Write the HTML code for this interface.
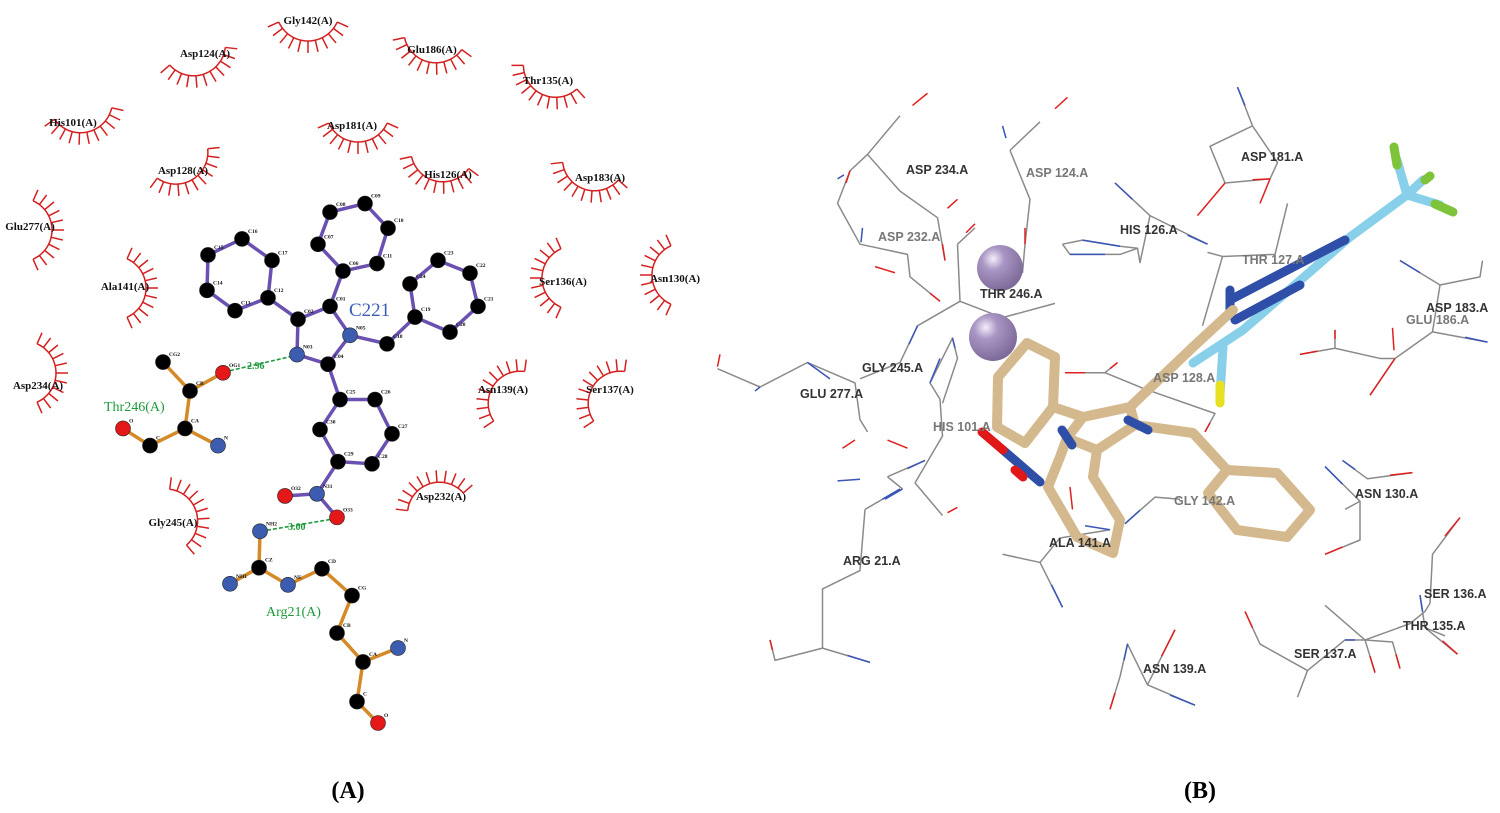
<!DOCTYPE html>
<html><head><meta charset="utf-8"><style>
body{margin:0;background:#fff;}
svg{display:block;}
.lb{font-family:"Liberation Serif",serif;font-weight:bold;font-size:11px;fill:#111;}
.al{font-family:"Liberation Serif",serif;font-weight:bold;font-size:5.5px;fill:#111;}
.rl{font-family:"Liberation Sans",sans-serif;font-weight:bold;font-size:12.5px;fill:#333;}
.rg{fill:#777;}
.w *{vector-effect:non-scaling-stroke;}
</style></head><body>
<svg id="s" width="1500" height="813" viewBox="0 0 1500 813" xmlns="http://www.w3.org/2000/svg">
<g id="lash" stroke="#d42020" stroke-width="1.5" fill="none"></g>
<g id="mol"></g>
<text x="348" y="798" text-anchor="middle" style="font-family:'Liberation Serif',serif;font-weight:bold;font-size:24px">(A)</text>
<text x="1200" y="798" text-anchor="middle" style="font-family:'Liberation Serif',serif;font-weight:bold;font-size:24px">(B)</text>

<g class="w" transform="translate(710,81) scale(0.5,0.408)" fill="none" stroke="#8a8a8a" stroke-width="1.5" stroke-linejoin="round">
<polyline points="380,85 315,180 380,270 455,335 470,440"/>
<polyline points="315,180 280,220 255,300 300,400 395,425 400,480 460,540"/>
<polyline points="600,170 640,290 630,400 625,470"/><polyline points="660,100 600,170"/>
<polyline points="495,400 500,540 415,600 380,690 300,730"/><polyline points="500,540 585,580 690,545"/><polyline points="495,400 530,360"/>
<polyline points="15,705 100,750 195,690 290,740 300,830 315,860"/>
<polyline points="355,970 430,930"/><polyline points="355,970 385,1000"/><polyline points="410,985 465,870 460,780 440,740 485,630 495,680 465,790"/>
<polyline points="310,1050 300,1200 225,1245 225,1390 130,1420 120,1370"/><polyline points="225,1390 320,1425"/><polyline points="310,1050 380,1000"/>
<polyline points="410,985 465,1065"/>
<polyline points="705,400 745,390 820,405 855,410 820,425 720,425 705,400"/><polyline points="855,410 860,445 880,330 810,250"/><polyline points="880,330 995,400"/>
<polyline points="995,420 1025,430 1130,425 1155,300"/><polyline points="1025,430 985,600"/>
<polyline points="1085,110 1000,160 1030,250 1120,240 1135,200 1085,110 1055,15"/>
<polyline points="1380,440 1460,500 1540,480 1545,440"/><polyline points="1460,500 1445,615 1370,680 1320,770"/><polyline points="1370,680 1340,680 1250,655 1180,670"/><polyline points="1250,655 1250,610"/><polyline points="1445,615 1555,640"/>
<polyline points="710,715 790,715 815,690"/><polyline points="790,715 870,755 1010,815 990,860"/>
<polyline points="830,1085 890,1020 940,1025"/>
<polyline points="585,1160 660,1180 705,1290"/><polyline points="660,1180 700,1120 800,1100"/>
<polyline points="1230,945 1300,1030 1270,1050"/><polyline points="1265,930 1315,975 1405,960"/><polyline points="1300,1030 1300,1125 1230,1160"/>
<polyline points="1500,1070 1445,1160 1440,1280 1430,1300 1400,1330 1310,1370 1230,1285"/><polyline points="1310,1370 1330,1450"/><polyline points="1310,1370 1365,1375 1380,1440"/><polyline points="1310,1370 1270,1370 1195,1445 1175,1510"/><polyline points="1195,1445 1100,1380 1070,1300"/><polyline points="1420,1260 1430,1340 1495,1405"/><polyline points="1430,1340 1470,1360"/>
<polyline points="930,1345 875,1480 835,1380 820,1460 800,1540"/><polyline points="875,1480 970,1530"/>
<g stroke="#e02020">
<line x1="435" y1="30" x2="405" y2="60"/><line x1="495" y1="290" x2="475" y2="312"/><line x1="465" y1="400" x2="470" y2="440"/><line x1="280" y1="220" x2="272" y2="250"/><line x1="440" y1="520" x2="460" y2="540"/><line x1="330" y1="455" x2="370" y2="470"/>
<line x1="715" y1="40" x2="690" y2="68"/><line x1="630" y1="360" x2="630" y2="400"/><line x1="530" y1="350" x2="512" y2="372"/><line x1="20" y1="670" x2="15" y2="700"/><line x1="265" y1="900" x2="290" y2="880"/><line x1="395" y1="900" x2="355" y2="880"/>
<line x1="120" y1="1370" x2="125" y2="1395"/><line x1="495" y1="1045" x2="475" y2="1058"/><line x1="1030" y1="250" x2="975" y2="330"/><line x1="1120" y1="240" x2="1100" y2="300"/><line x1="1085" y1="242" x2="1120" y2="240"/>
<line x1="1370" y1="680" x2="1320" y2="770"/><line x1="1180" y1="670" x2="1215" y2="662"/><line x1="1250" y1="610" x2="1250" y2="632"/><line x1="1365" y1="605" x2="1368" y2="660"/>
<line x1="710" y1="715" x2="750" y2="715"/><line x1="815" y1="690" x2="800" y2="705"/><line x1="990" y1="860" x2="1000" y2="838"/><line x1="1405" y1="960" x2="1360" y2="966"/><line x1="1230" y1="1160" x2="1265" y2="1142"/>
<line x1="1500" y1="1070" x2="1470" y2="1115"/><line x1="1330" y1="1450" x2="1320" y2="1410"/><line x1="1380" y1="1440" x2="1372" y2="1405"/><line x1="1070" y1="1300" x2="1085" y2="1340"/><line x1="1495" y1="1405" x2="1465" y2="1372"/><line x1="930" y1="1345" x2="903" y2="1410"/><line x1="800" y1="1540" x2="810" y2="1500"/><line x1="720" y1="995" x2="725" y2="1050"/>
</g>
<g stroke="#3a55b8">
<line x1="255" y1="240" x2="268" y2="230"/><line x1="305" y1="360" x2="302" y2="395"/><line x1="585" y1="110" x2="592" y2="140"/><line x1="415" y1="600" x2="398" y2="645"/><line x1="100" y1="750" x2="90" y2="760"/><line x1="195" y1="690" x2="240" y2="730"/>
<line x1="255" y1="980" x2="300" y2="976"/><line x1="430" y1="930" x2="395" y2="950"/><line x1="350" y1="1025" x2="385" y2="1000"/><line x1="380" y1="1000" x2="345" y2="1025"/><line x1="320" y1="1425" x2="275" y2="1408"/>
<line x1="745" y1="390" x2="820" y2="405"/><line x1="720" y1="425" x2="790" y2="425"/><line x1="810" y1="250" x2="845" y2="290"/><line x1="995" y1="400" x2="955" y2="378"/><line x1="1055" y1="15" x2="1070" y2="60"/>
<line x1="1380" y1="440" x2="1420" y2="470"/><line x1="1555" y1="640" x2="1510" y2="628"/><line x1="830" y1="1085" x2="860" y2="1052"/><line x1="705" y1="1290" x2="683" y2="1235"/><line x1="800" y1="1100" x2="750" y2="1090"/>
<line x1="1230" y1="945" x2="1265" y2="988"/><line x1="1265" y1="930" x2="1290" y2="952"/><line x1="1270" y1="1370" x2="1290" y2="1370"/><line x1="1420" y1="1260" x2="1425" y2="1300"/><line x1="835" y1="1380" x2="828" y2="1420"/><line x1="970" y1="1530" x2="920" y2="1505"/>
<line x1="440" y1="740" x2="460" y2="680"/><line x1="485" y1="630" x2="490" y2="655"/>
</g>
</g>
<defs><radialGradient id="pg" cx="0.35" cy="0.3" r="0.7"><stop offset="0" stop-color="#f4eefa"/><stop offset="0.35" stop-color="#a996c4"/><stop offset="1" stop-color="#7e6b9a"/></radialGradient></defs>
<circle cx="1000" cy="268" r="23" fill="url(#pg)"/>
<circle cx="993" cy="337" r="24" fill="url(#pg)"/>
<g fill="none" stroke-linecap="round" stroke-linejoin="round">
<g stroke="#88d0ea" stroke-width="9">
<polyline points="1193,363 1243,330 1350,237 1407,195"/><polyline points="1223,347 1220,395"/>
<polyline points="1407,195 1397,160"/><polyline points="1407,195 1423,180"/><polyline points="1407,195 1440,205"/>
</g>
<g stroke="#2e4ea8" stroke-width="9"><polyline points="1230,300 1345,240"/><polyline points="1235,320 1300,285"/><polyline points="1230,315 1230,290"/></g>
<g stroke="#7ec33a" stroke-width="9" ><line x1="1397" y1="165" x2="1394" y2="147"/><line x1="1425" y1="180" x2="1430" y2="176"/><line x1="1435" y1="204" x2="1453" y2="212"/></g>
<line x1="1220" y1="385" x2="1220" y2="403" stroke="#e6e020" stroke-width="9"/>
<g stroke="#d5b98e" stroke-width="10">
<polyline points="1027,343 1055,357 1053,407 1025,443 997,427 998,377 1027,343"/>
<polyline points="1053,407 1083,417 1130,407 1193,347 1233,310"/>
<polyline points="1130,407 1135,425 1193,433 1227,470 1277,473 1310,510 1287,537 1237,530 1208,493 1227,470"/>
<polyline points="1067,438 1097,450 1135,425"/><polyline points="1083,417 1067,438"/>
<polyline points="1097,450 1093,477 1120,520 1113,553 1077,537 1048,487 1060,457 1067,438"/>
</g>
<g stroke="#2e4ea8" stroke-width="9"><line x1="1062" y1="430" x2="1072" y2="445"/><line x1="1128" y1="420" x2="1148" y2="430"/><line x1="1040" y1="482" x2="1003" y2="450"/></g>
<g stroke="#e01818" stroke-width="9"><line x1="1003" y1="450" x2="982" y2="432"/><line x1="1015" y1="470" x2="1023" y2="477"/></g>
</g>
<g class="rl">
<text x="906" y="174">ASP 234.A</text><text x="1026" y="177" class="rl rg">ASP 124.A</text><text x="1241" y="161">ASP 181.A</text>
<text x="1120" y="234">HIS 126.A</text><text x="878" y="241" class="rl rg">ASP 232.A</text><text x="1242" y="264" class="rl rg">THR 127.A</text>
<text x="980" y="298">THR 246.A</text><text x="1426" y="312">ASP 183.A</text><text x="1406" y="324" class="rl rg">GLU 186.A</text>
<text x="862" y="372">GLY 245.A</text><text x="800" y="398">GLU 277.A</text><text x="933" y="431" class="rl rg">HIS 101.A</text>
<text x="1153" y="382" class="rl rg">ASP 128.A</text><text x="1174" y="505" class="rl rg">GLY 142.A</text><text x="1355" y="498">ASN 130.A</text>
<text x="1049" y="547">ALA 141.A</text><text x="843" y="565">ARG 21.A</text><text x="1424" y="598">SER 136.A</text>
<text x="1403" y="630">THR 135.A</text><text x="1294" y="658">SER 137.A</text><text x="1143" y="673">ASN 139.A</text>
</g>
</svg>
<script>
const NS="http://www.w3.org/2000/svg";
function el(p,t,a){const e=document.createElementNS(NS,t);for(const k in a)e.setAttribute(k,a[k]);p.appendChild(e);return e;}
const L=document.getElementById('lash'),S=document.getElementById('s'),M=document.getElementById('mol');
const lashes=[
["Gly142(A)",308,47,0,1,308,24],["Asp124(A)",205,80,0.3,0.95,205,57],["Glu186(A)",428,68,-0.2,0.95,432,53],["Thr135(A)",540,100,-0.4,0.9,548,84],
["His101(A)",88,138,0.2,1,73,126],["Asp181(A)",358,148,0,1,352,129],["Asp128(A)",195,185,0.5,0.86,183,174],["His126(A)",435,187,-0.2,0.95,448,178],
["Asp183(A)",583,195,-0.3,0.95,600,181],["Glu277(A)",58,230,1,0,30,230],["Ala141(A)",152,288,1,0,125,290],["Ser136(A)",536,278,-1,0,563,285],
["Asn130(A)",646,275,-1,0,675,282],["Asp234(A)",62,373,1,0,38,389],["Asn139(A)",488,383,-0.8,-0.5,503,393],["Ser137(A)",588,383,-0.8,-0.5,610,393],
["Asp232(A)",428,478,-0.3,-0.95,441,500],["Gly245(A)",202,510,1,-0.3,173,526]];
for(const [n,x,y,ddx,ddy,lx,ly] of lashes){
 let dx=ddx,dy=ddy;const m=Math.hypot(dx,dy);dx/=m;dy/=m;
 const R=32,cx=x-dx*(R+6),cy=y-dy*(R+6),a0=Math.atan2(dy,dx),sp=1.15;
 let d="";for(let i=0;i<=24;i++){const a=a0-sp+2*sp*i/24;d+=(i?"L":"M")+(cx+R*Math.cos(a)).toFixed(1)+","+(cy+R*Math.sin(a)).toFixed(1);}
 el(L,'path',{d});
 for(let i=0;i<=10;i++){const a=a0-sp+2*sp*i/10;el(L,'line',{x1:cx+R*Math.cos(a),y1:cy+R*Math.sin(a),x2:cx+(R+12)*Math.cos(a),y2:cy+(R+12)*Math.sin(a)});}
 const t=el(S,'text',{x:lx,y:ly,'text-anchor':'middle',class:'lb'});t.textContent=n;
}
const Y=y=>180+(y-180)*1.071;
const A={C15:[208,250],C16:[242,235],C17:[272,255],C14:[207,283],C13:[235,302],C12:[268,290],C02:[298,310],C01:[330,298],C06:[343,265],C07:[318,240],C08:[330,210],C09:[365,202],C10:[388,225],C11:[377,258],N05:[350,325,'b'],N03:[297,343,'b'],C04:[328,352],C18:[387,333],C19:[415,308],C24:[410,277],C23:[438,255],C22:[470,267],C21:[478,298],C20:[450,322],C25:[340,385],C26:[375,385],C27:[392,417],C28:[372,445],C29:[338,443],C30:[320,413],N31:[317,473,'b'],O32:[285,475,'r'],O33:[337,495,'r']};
const B=[["C15","C16"],["C16","C17"],["C15","C14"],["C14","C13"],["C13","C12"],["C12","C17"],["C12","C02"],["C02","C01"],["C01","C06"],["C06","C07"],["C07","C08"],["C08","C09"],["C09","C10"],["C10","C11"],["C11","C06"],["C01","N05"],["N05","C04"],["C04","N03"],["N03","C02"],["N05","C18"],["C18","C19"],["C19","C24"],["C24","C23"],["C23","C22"],["C22","C21"],["C21","C20"],["C20","C19"],["C04","C25"],["C25","C26"],["C26","C27"],["C27","C28"],["C28","C29"],["C29","C30"],["C30","C25"],["C29","N31"],["N31","O32"],["N31","O33"]];
const T={CG2:[163,350],CB:[190,377],OG1:[223,360,'r'],CA:[185,412],N:[218,428,'b'],C:[150,428],O:[123,412,'r']};
const TB=[["CG2","CB"],["CB","OG1"],["CB","CA"],["CA","N"],["CA","C"],["C","O"]];
const R2={NH2:[260,508,'b'],CZ:[259,542],NH1:[230,557,'b'],NE:[288,558,'b'],CD:[322,543],CG:[352,568],CB:[337,603],CA:[363,630],N:[398,617,'b'],C:[357,667],O:[378,687,'r']};
const RB=[["NH2","CZ"],["CZ","NH1"],["CZ","NE"],["NE","CD"],["CD","CG"],["CG","CB"],["CB","CA"],["CA","N"],["CA","C"],["C","O"]];
function draw(atoms,bonds,col){
 for(const [a,b] of bonds)el(M,'line',{x1:atoms[a][0],y1:Y(atoms[a][1]),x2:atoms[b][0],y2:Y(atoms[b][1]),stroke:col,'stroke-width':3.5});
 for(const k in atoms){const [x,y0,c]=atoms[k];const y=Y(y0);el(M,'circle',{cx:x,cy:y,r:7.5,fill:c=='b'?'#3c5cb0':c=='r'?'#e41818':'#000',stroke:'#222','stroke-width':0.6});
  const t=el(M,'text',{x:x+6,y:y-6,class:'al'});t.textContent=k;}
}
el(M,'line',{x1:230,y1:Y(358),x2:290,y2:Y(345),stroke:'#1e9a3c','stroke-width':1.6,'stroke-dasharray':'4,2'});
el(M,'line',{x1:267,y1:Y(507),x2:330,y2:Y(497),stroke:'#1e9a3c','stroke-width':1.6,'stroke-dasharray':'4,2'});
draw(A,B,'#6a50b0');draw(T,TB,'#d48a28');draw(R2,RB,'#d48a28');
const txt=(x,y,s,st)=>{const t=el(M,'text',{x,y,style:st});t.textContent=s;};
txt(247,369,"2.96","font-family:'Liberation Serif',serif;font-weight:bold;font-size:10px;fill:#1e9a3c");
txt(288,530,"3.00","font-family:'Liberation Serif',serif;font-weight:bold;font-size:10px;fill:#1e9a3c");
txt(349,316,"C221","font-family:'Liberation Serif',serif;font-size:19px;fill:#3d5cb8");
txt(104,411,"Thr246(A)","font-family:'Liberation Serif',serif;font-size:14px;fill:#1e9a3c");
txt(266,616,"Arg21(A)","font-family:'Liberation Serif',serif;font-size:14px;fill:#1e9a3c");
</script>
</body></html>
